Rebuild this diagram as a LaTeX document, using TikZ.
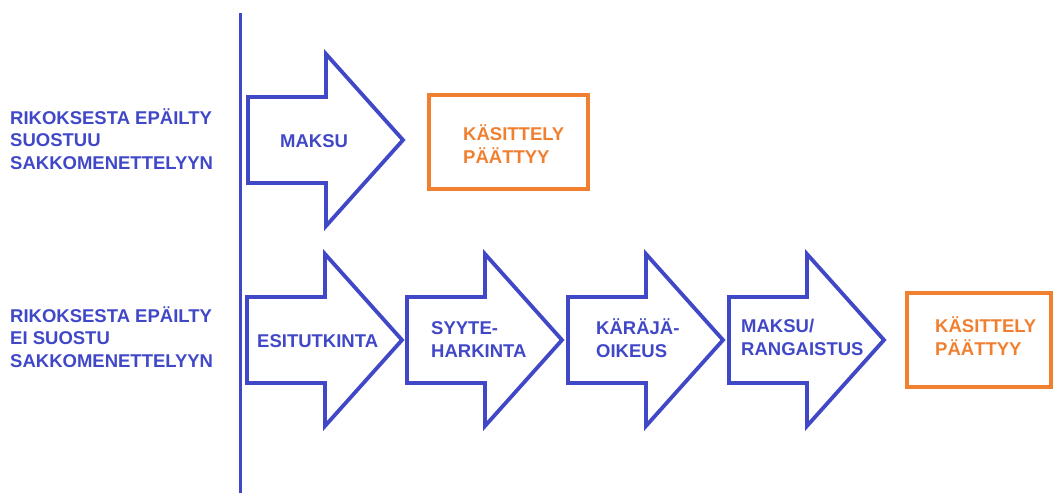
\documentclass[tikz,border=0pt]{standalone}
\usepackage{fontspec}
\setmainfont{Liberation Sans}
\definecolor{myblue}{RGB}{64,72,200}
\definecolor{myorange}{RGB}{240,128,48}
\begin{document}
\begin{tikzpicture}[x=1pt,y=-1pt,
  arrowline/.style={draw=myblue,line width=3.8pt,line join=miter,fill=white},
  lbl/.style={inner sep=0pt,anchor=base west,align=left,font=\bfseries\fontsize{18.5}{22.5}\selectfont},
  bluetxt/.style={lbl,text=myblue},
  orangetxt/.style={lbl,text=myorange},
  endbox/.style={draw=myorange,line width=4pt,inner sep=0pt},
  bigarrow/.pic={\path[arrowline] (0,-43) -- (78,-43) -- (78,-86) -- (155,0) -- (78,86) -- (78,43) -- (0,43) -- cycle;}]
\useasboundingbox (0,0) rectangle (1055,493);
% vertical divider
\coordinate (vtop) at (240,13);
\coordinate (vbot) at (240,493);
\draw[myblue,line width=3pt] (vtop) -- (vbot);
% left labels (base anchor = last line baseline)
\node[bluetxt] (l1) at (10,169) {RIKOKSESTA EPÄILTY\\SUOSTUU\\SAKKOMENETTELYYN};
\node[bluetxt] (l2) at (10,367) {RIKOKSESTA EPÄILTY\\EI SUOSTU\\SAKKOMENETTELYYN};
% upper row
\pic at (248,140) {bigarrow};
\node[bluetxt] (maksu) at (280,147) {MAKSU};
\node[endbox,minimum width=159pt,minimum height=94pt] (box1) at (508.5,142) {};
\node[orangetxt] (k1) at (463,163) {KÄSITTELY\\PÄÄTTYY};
% lower row
\pic at (247,340) {bigarrow};
\pic at (407,340) {bigarrow};
\pic at (568,340) {bigarrow};
\pic at (729,340) {bigarrow};
\node[bluetxt] (esi) at (257,347) {ESITUTKINTA};
\node[bluetxt] (syy) at (431,357) {SYYTE-\\HARKINTA};
\node[bluetxt] (kar) at (596,357) {KÄRÄJÄ-\\OIKEUS};
\node[bluetxt] (mak) at (741,355) {MAKSU/\\RANGAISTUS};
\node[endbox,minimum width=144pt,minimum height=94pt] (box2) at (979,340) {};
\node[orangetxt] (k2) at (935,355) {KÄSITTELY\\PÄÄTTYY};
\end{tikzpicture}
\end{document}
